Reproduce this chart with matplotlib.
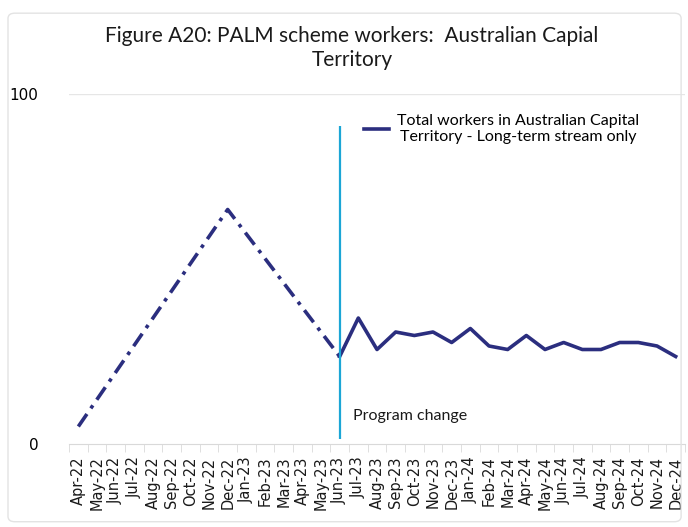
import matplotlib
matplotlib.use("Agg")
import matplotlib.pyplot as plt
import numpy as np
from matplotlib.patches import FancyBboxPatch

months = ["Apr-22", "May-22", "Jun-22", "Jul-22", "Aug-22", "Sep-22", "Oct-22",
          "Nov-22", "Dec-22", "Jan-23", "Feb-23", "Mar-23", "Apr-23", "May-23",
          "Jun-23", "Jul-23", "Aug-23", "Sep-23", "Oct-23", "Nov-23", "Dec-23",
          "Jan-24", "Feb-24", "Mar-24", "Apr-24", "May-24", "Jun-24", "Jul-24",
          "Aug-24", "Sep-24", "Oct-24", "Nov-24", "Dec-24"]

# before the program change only a few readings are known (dash-dot segment)
early_months = ["Apr-22", "Dec-22", "Jun-23"]
early_values = [5, 67, 25]

# long-term stream workers after the program change
late_months = months[14:]
late_values = [25, 36, 27, 32, 31, 32, 29, 33, 28, 27, 31, 27, 29, 27, 27,
               29, 29, 28, 25]

change_month = "Jun-23"

NAVY = "#2b2e7f"
CYAN = "#1ba6d6"
GREY = "#d9d9d9"

fig = plt.figure(figsize=(6.88, 5.27), dpi=100)
fig.patches.append(FancyBboxPatch((8 / 688, 0.01), 0.99 - 8 / 688, 0.965,
                                  boxstyle="round,pad=0,rounding_size=0.01",
                                  transform=fig.transFigure, facecolor="none",
                                  edgecolor="#e3e3e3", linewidth=1))
fig.text(352 / 688, 1 - 48 / 527,
         "Figure A20: PALM scheme workers:  Australian Capial\nTerritory",
         ha="center", va="center", fontsize=15, family="Lato",
         linespacing=1.25, color="#1a1a1a")

ax = fig.add_axes([69 / 688, 1 - 444 / 527, (685 - 69) / 688, (444 - 94) / 527])
pos = {m: i for i, m in enumerate(months)}

ax.plot([pos[m] for m in early_months], early_values, color=NAVY, lw=2.6,
        dashes=(4.2, 1.9, 1.0, 1.9), solid_capstyle="butt")
ax.plot([pos[m] for m in late_months], late_values, color=NAVY, lw=2.6,
        label="Total workers in Australian Capital\nTerritory - Long-term stream only")

ax.vlines(pos[change_month], 1.5, 91, color=CYAN, lw=1.6)
ax.text(pos[change_month] + 0.7, 8, "Program change", family="Lato",
        fontsize=11.5, color="#1a1a1a", va="center")

ax.set_xlim(-0.5, len(months) - 0.5)
ax.set_ylim(0, 100)
ax.set_yticks([0, 100])
ax.set_yticklabels(["0", "100"], fontsize=11)
ax.set_xticks(range(len(months)))
ax.set_xticklabels(months, rotation=90, fontsize=10.5, color="#1a1a1a")
ax.set_xticks(np.arange(-0.5, len(months)), minor=True)
ax.tick_params(axis="x", which="major", length=0, pad=9)
ax.tick_params(axis="x", which="minor", length=6, color=GREY)
ax.tick_params(axis="y", length=0, pad=22)
ax.axhline(100, color="#e6e6e6", lw=1)
for s in ["top", "right", "left"]:
  ax.spines[s].set_visible(False)
ax.spines["bottom"].set_color(GREY)

leg = ax.legend(loc="upper left", bbox_to_anchor=(0.455, 0.985), frameon=False,
                handlelength=1.6, handletextpad=0.5,
                prop={"family": "Lato", "size": 11.5})
for t in leg.get_texts():
  t.set_multialignment("center")

fig.savefig("out.png", dpi=100)
